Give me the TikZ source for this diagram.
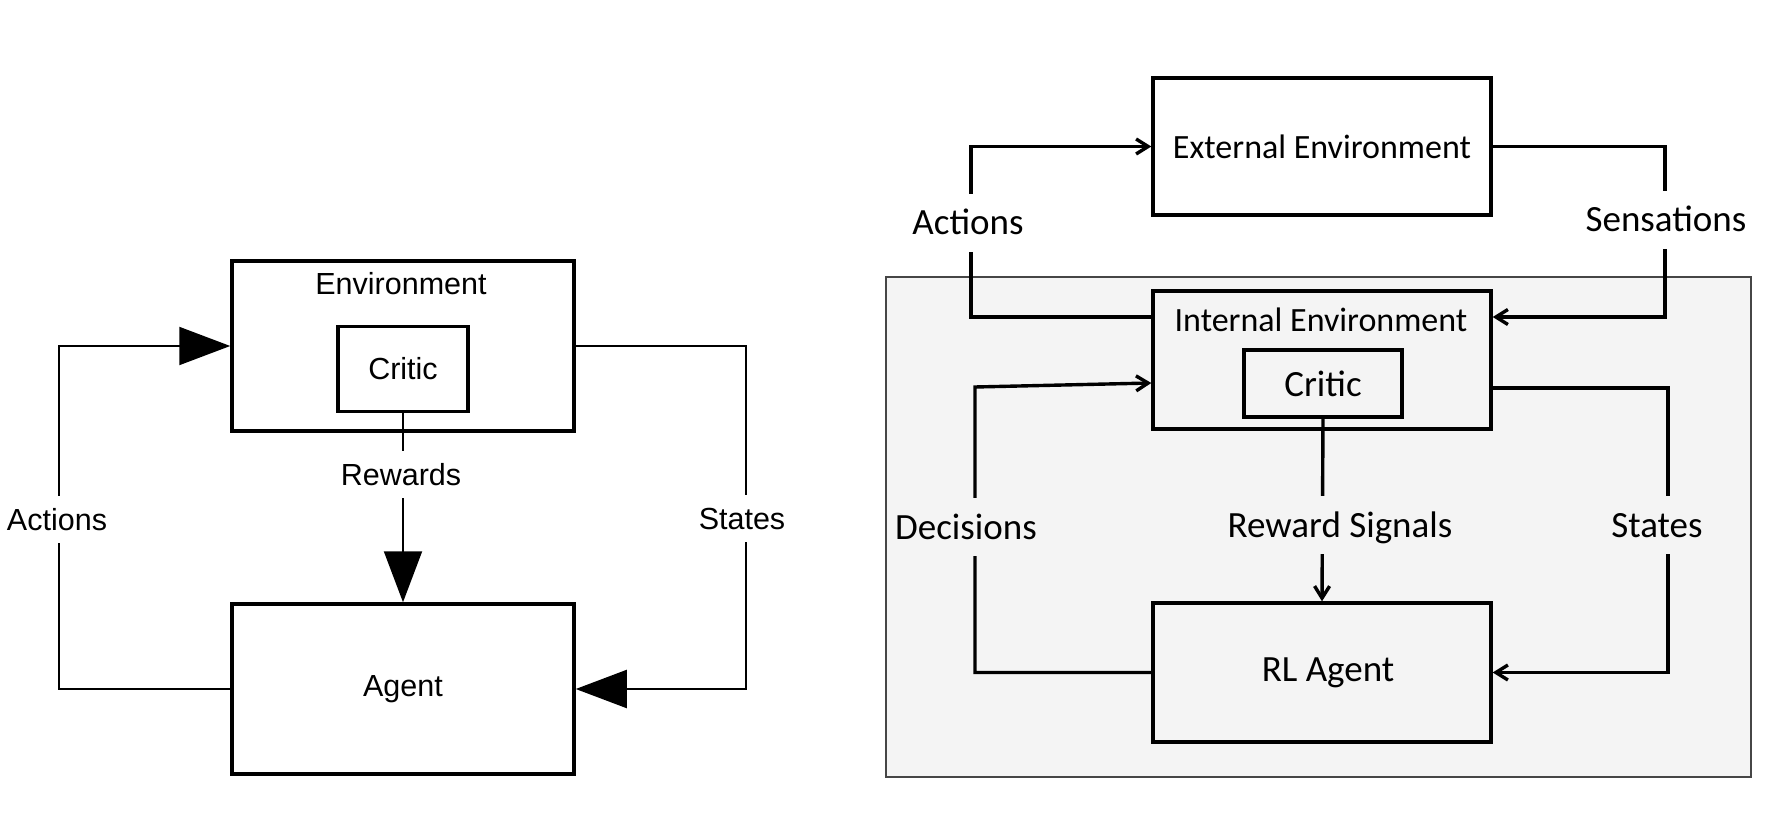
\documentclass[tikz,border=0pt]{standalone}
\usepackage{fontspec}
\usetikzlibrary{arrows.meta}
\newfontfamily\helv{Liberation Sans}
\newfontfamily\cali{Carlito}
\definecolor{bggray}{RGB}{244,244,244}
\definecolor{edgegray}{RGB}{70,70,70}
\tikzset{
  lbox/.style={draw=black, line width=3.5pt, fill=white, inner sep=0pt, font=\helv\fontsize{30.5}{36}\selectfont},
  lconn/.style={draw=black, line width=2pt},
  ltip/.style={-{Triangle[length=51pt,width=38pt]}},
  llab/.style={fill=white, inner xsep=3pt, inner ysep=0pt, text height=22pt, text depth=0pt, minimum height=47pt, font=\helv\fontsize{30.5}{36}\selectfont},
  rbox/.style={draw=black, line width=3.4pt, inner sep=0pt, font=\cali\fontsize{37}{44}\selectfont},
  rconn/.style={draw=black, line width=3.4pt},
  rtip/.style={-{Straight Barb[length=12pt,width=15pt]}},
  rlab/.style={inner xsep=3pt, inner ysep=0pt, text height=24pt, text depth=0pt, minimum height=58pt, font=\cali\fontsize{37}{44}\selectfont},
}
\begin{document}
\begin{tikzpicture}[x=1pt,y=-1pt]
\useasboundingbox (0,0) rectangle (1765,829);
% ---------------- left diagram ----------------
\node[lbox, minimum width=342pt, minimum height=170pt] (env) at (403,346) {};
\node[font=\helv\fontsize{30.5}{36}\selectfont, inner sep=0pt] (envlab) at (401,284) {Environment};
\node[lbox, minimum width=130pt, minimum height=85pt] (critic) at (403,369) {Critic};
\node[lbox, minimum width=342pt, minimum height=170pt] (agent) at (403,689) {Agent};
\coordinate (aL) at (59,346);
\coordinate (sR) at (746,689);
\draw[lconn, ltip] (agent.west) -| (aL) -- (env.west);
\draw[lconn, ltip] (env.east) -| (sR) -- (agent.east);
\draw[lconn, ltip] (critic.south) -- (agent.north);
\node[llab] (actl) at (57,519) {Actions};
\node[llab] (rewl) at (401,474) {Rewards};
\node[llab] (stl) at (742,518) {States};
% ---------------- right diagram ----------------
\node[draw=edgegray, line width=1.5pt, fill=bggray, minimum width=865pt, minimum height=500pt, inner sep=0pt] (inner) at (1318.5,527) {};
\node[rbox, fill=white, minimum width=338pt, minimum height=137pt, font=\cali\fontsize{34}{40}\selectfont] (ext) at (1322,146.5) {External Environment};
\node[rbox, fill=bggray, minimum width=338pt, minimum height=138pt] (int) at (1322,360) {};
\node[font=\cali\fontsize{34}{40}\selectfont, inner sep=0pt] (intlab) at (1321,320) {Internal Environment};
\node[rbox, fill=bggray, minimum width=158pt, minimum height=67pt] (rcritic) at (1323,383.5) {Critic};
\node[rbox, fill=bggray, minimum width=338pt, minimum height=139pt] (rla) at (1322,672.5) {\hspace*{12pt}RL Agent};
\coordinate (aTop) at (971,146.5);
\coordinate (sBot) at (1665,317);
\coordinate (dTop) at (975,387);
\coordinate (stBot) at (1668,672.5);
\draw[rconn, rtip] (int.west |- 0,317) -| (aTop) -- (ext.west);
\draw[rconn, rtip] (ext.east) -| (sBot) -- (int.east |- 0,317);
\draw[rconn, rtip] (rla.west) -| (dTop) -- (int.west |- 0,383);
\draw[rconn, rtip] (int.east |- 0,388) -| (stBot) -- (rla.east);
\draw[rconn, rtip] (rcritic.south) -- (rla.north);
\node[rlab, fill=white] (ractl) at (968,223) {Actions};
\node[rlab, fill=white] (sensl) at (1666,220) {Sensations};
\node[rlab, fill=bggray] (decl) at (966,527) {Decisions};
\node[rlab, fill=bggray] (rsl) at (1340,525) {Reward Signals};
\node[rlab, fill=bggray] (rstl) at (1657,525) {States};
\end{tikzpicture}
\end{document}
